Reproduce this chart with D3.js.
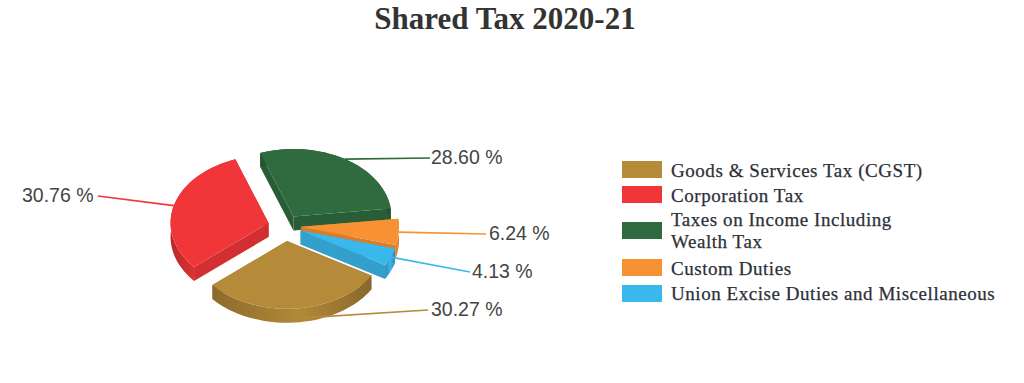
<!DOCTYPE html>
<html>
<head>
<meta charset="utf-8">
<script src="https://cdn.jsdelivr.net/npm/d3@7"></script>
<style>
	html, body { margin: 0; background: #fff; }
	svg { display: block; }
	.title { font: bold 31px "Liberation Serif", serif; fill: #333; }
	.label { font: 19.5px "Liberation Sans", sans-serif; fill: #444; }
	.legend text { font: 19px "Liberation Serif", serif; letter-spacing: .55px; fill: #2d3038; stroke: #2d3038; stroke-width: .25px; }
</style>
</head>
<body>
<div id="chart"></div>
<script>
const categories = [
	["Goods & Services Tax (CGST)"],
	["Corporation Tax"],
	["Taxes on Income Including", "Wealth Tax"],
	["Custom Duties"],
	["Union Excise Duties and Miscellaneous"]
];
const shares = [30.27, 30.76, 28.60, 6.24, 4.13];
const labels = ["30.27 %", "30.76 %", "28.60 %", "6.24 %", "4.13 %"];
const colours = ["#b58b39", "#f13639", "#2f6b3e", "#f79133", "#3bb8eb"];

// layout, all by eye from the reference
const width = 1024, height = 383;
const radius = 98, squash = 0.69, depth = 14;
const startAngle = 120.5 * Math.PI / 180;
const centre = { x: 285, y: 226 };
const explode = [22, 17, 16, 16, 17];
const labelAnchors = [[428, 310], [98, 196], [430, 158], [486, 234], [470, 272]];
const labelTexts = [[431, 316], [22, 202], [431, 164], [489, 240], [472, 278]];
const drawOrder = [2, 1, 3, 4, 0];
const legendTops = [161, 186, 222, 259, 285];
const legendBaselines = [[177], [202], [226, 248], [275], [300]];

const svg = d3.select("#chart").append("svg")
	.attr("width", width)
	.attr("height", height);

svg.append("text")
	.attr("class", "title")
	.attr("x", 505)
	.attr("y", 29)
	.attr("text-anchor", "middle")
	.text("Shared Tax 2020-21");

const pie = d3.pie()
	.sort(null)
	.startAngle(startAngle)
	.endAngle(startAngle + 2 * Math.PI);
const arcs = pie(shares);

const onRim = (a, r = radius) => [Math.sin(a) * r, -Math.cos(a) * r * squash];
const line = d3.line();

// centre of each pulled out slice
const origin = arcs.map((d, i) => {
	const mid = (d.startAngle + d.endAngle) / 2;
	const p = onRim(mid, explode[i]);
	return [centre.x + p[0], centre.y + p[1]];
});

const defs = svg.append("defs");
colours.forEach((c, i) => {
	const grad = defs.append("linearGradient").attr("id", "wall" + i);
	grad.append("stop").attr("offset", "0%").attr("stop-color", d3.color(c).darker(0.75));
	grad.append("stop").attr("offset", "55%").attr("stop-color", d3.color(c).darker(0.05));
	grad.append("stop").attr("offset", "100%").attr("stop-color", d3.color(c).darker(0.8));
});

const slices = svg.append("g").attr("class", "slices");

drawOrder.forEach(i => {
	const d = arcs[i];
	const g = slices.append("g").attr("transform", `translate(${origin[i]})`);
	const steps = d3.range(0, 41).map(t => d.startAngle + (d.endAngle - d.startAngle) * t / 40);
	const rim = steps.map(a => onRim(a));
	const rimLow = rim.map(p => [p[0], p[1] + depth]).reverse();

	// the two straight walls
	[d.startAngle, d.endAngle].forEach(a => {
		const p = onRim(a);
		g.append("path")
			.attr("d", line([[0, 0], p, [p[0], p[1] + depth], [0, depth]]) + "Z")
			.attr("fill", d3.color(colours[i]).darker(0.4));
	});

	g.append("path")
		.attr("d", line(rim.concat(rimLow)) + "Z")
		.attr("fill", `url(#wall${i})`);

	g.append("path")
		.attr("d", line([[0, 0]].concat(rim)) + "Z")
		.attr("fill", colours[i]);
});

// leader lines go over the slices
const leaders = svg.append("g").attr("class", "leaders");
arcs.forEach((d, i) => {
	const mid = (d.startAngle + d.endAngle) / 2;
	const p = onRim(mid);
	const front = Math.cos(mid) < -0.5 ? depth * 0.7 : 0;
	leaders.append("path")
		.attr("d", line([[origin[i][0] + p[0], origin[i][1] + p[1] + front], labelAnchors[i]]))
		.attr("fill", "none")
		.attr("stroke", colours[i])
		.attr("stroke-width", 1.7);
	svg.append("text")
		.attr("class", "label")
		.attr("x", labelTexts[i][0])
		.attr("y", labelTexts[i][1])
		.text(labels[i]);
});

const legend = svg.append("g").attr("class", "legend");
categories.forEach((rows, i) => {
	legend.append("rect")
		.attr("x", 622)
		.attr("y", legendTops[i])
		.attr("width", 40)
		.attr("height", 17)
		.attr("fill", colours[i]);
	rows.forEach((row, j) => {
		legend.append("text")
			.attr("x", 671)
			.attr("y", legendBaselines[i][j])
			.text(row);
	});
});
</script>
</body>
</html>
